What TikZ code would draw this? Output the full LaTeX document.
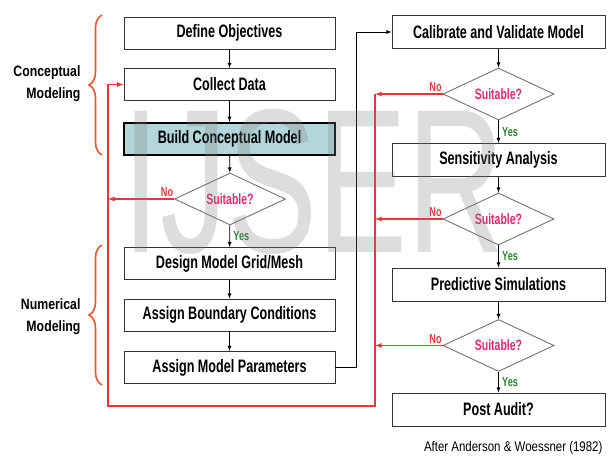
\documentclass[tikz,border=0pt]{standalone}
\usepackage{fontspec}
\setmainfont{Liberation Sans}
\newfontfamily\boxfont{Liberation Sans}[FakeStretch=0.7]
\newfontfamily\narrowfont{Liberation Sans}[FakeStretch=0.82]
\usetikzlibrary{arrows,shapes,positioning}
\usetikzlibrary{decorations.pathreplacing}

\definecolor{loopred}{RGB}{226,58,58}
\definecolor{bracered}{RGB}{232,86,44}
\definecolor{asktext}{RGB}{228,40,110}
\definecolor{yesgreen}{RGB}{40,130,50}
\definecolor{buildfill}{RGB}{178,214,218}

\tikzset{
  stage/.style={draw=black!80,fill=white,line width=0.9pt,minimum width=211pt,
    minimum height=32pt,inner sep=0pt,font=\boxfont\bfseries\fontsize{18}{20}\selectfont},
  ask/.style={diamond,aspect=2.1,draw=black!55,fill=white,line width=0.9pt,
    minimum width=111pt,minimum height=52pt,inner sep=0pt,text=asktext,
    font=\boxfont\bfseries\fontsize{15}{16}\selectfont},
  flow/.style={->,>=latex,line width=0.8pt},
  back/.style={->,>=latex,draw=loopred,line width=1.3pt},
  nolabel/.style={text=loopred,anchor=south east,pos=0,xshift=3pt,yshift=-2pt,
    font=\boxfont\bfseries\fontsize{13}{14}\selectfont},
  yeslabel/.style={text=yesgreen,font=\boxfont\bfseries\fontsize{13}{14}\selectfont},
  phase/.style={align=right,anchor=east,font=\narrowfont\bfseries\fontsize{15}{22}\selectfont},
  phasebrace/.style={draw=bracered,line width=1.6pt,decorate,decoration={brace,amplitude=13pt}}
}

\begin{document}
\begin{tikzpicture}[x=1pt,y=-1pt]
      \useasboundingbox (0,0) rectangle (616,456);

      % left column
      \node[stage] (obj) at (229.5,33) {Define Objectives};
      \node[stage] (data) at (229.5,84.5) {Collect Data};
      \node[stage,fill=buildfill,line width=2.4pt,draw=black] (concept) at (229.5,139) {Build Conceptual Model};
      \node[ask] (suit0) at (230,199) {Suitable?};
      \node[stage] (grid) at (229.5,263.5) {Design Model Grid/Mesh};
      \node[stage] (bc) at (229.5,315) {Assign Boundary Conditions};
      \node[stage] (param) at (229.5,367.5) {Assign Model Parameters};

      % right column
      \node[stage,minimum width=213pt,minimum height=33pt] (calib) at (498.5,32) {Calibrate and Validate Model};
      \node[ask] (suit1) at (498.5,94) {Suitable?};
      \node[stage,minimum width=213pt,minimum height=33pt] (sens) at (498.5,160) {Sensitivity Analysis};
      \node[ask] (suit2) at (498.5,219) {Suitable?};
      \node[stage,minimum width=213pt,minimum height=33pt] (pred) at (498.5,284.5) {Predictive Simulations};
      \node[ask] (suit3) at (498.5,345.5) {Suitable?};
      \node[stage,minimum width=213pt,minimum height=33pt] (audit) at (498.5,409.5) {Post Audit?};

      % main flow
      \foreach \a/\b in {obj/data,data/concept,concept/suit0,grid/bc,bc/param,
                         calib/suit1,sens/suit2,pred/suit3}
        \draw[flow] (\a) -- (\b);
      \draw[flow] (suit0) -- node[yeslabel,right] {Yes} (grid);
      \draw[flow] (suit1) -- node[yeslabel,right] {Yes} (sens);
      \draw[flow] (suit2) -- node[yeslabel,right] {Yes} (pred);
      \draw[flow] (suit3) -- node[yeslabel,right] {Yes} (audit);
      \draw[flow] (param.east) -- ++(21,0) |- (calib.west);

      % feedback loops
      \coordinate (rail) at (375,406);
      \coordinate (leftrail) at (108,406);
      \draw[back] (suit0.west) -- node[nolabel] {No} (suit0.west -| leftrail);
      \draw[back] (suit1.west) -- node[nolabel] {No} (suit1.west -| rail);
      \draw[back] (suit2.west) -- node[nolabel] {No} (suit2.west -| rail);
      \draw[back] (suit3.west) -- node[nolabel] {No} (suit3.west -| rail);
      \draw[back] (suit1.west -| rail) -- (rail) -- (leftrail) -- (data.west -| leftrail) -- (data.west);

      % phases
      \draw[phasebrace] (102,155) -- (102,15);
      \node[phase] (concphase) at (84,84) {Conceptual\\Modeling};
      \draw[phasebrace] (102,385) -- (102,245);
      \node[phase] (numphase) at (84,316.5) {Numerical\\Modeling};

      \node[anchor=east,font=\narrowfont\fontsize{14}{16}\selectfont] (source) at (606,448) {After Anderson \& Woessner (1982)};

      % watermark
      \node[text=black!50,opacity=0.27,inner sep=0pt] (mark) at (314,181.5) {\resizebox{382pt}{143pt}{IJSER}};
\end{tikzpicture}
\end{document}
